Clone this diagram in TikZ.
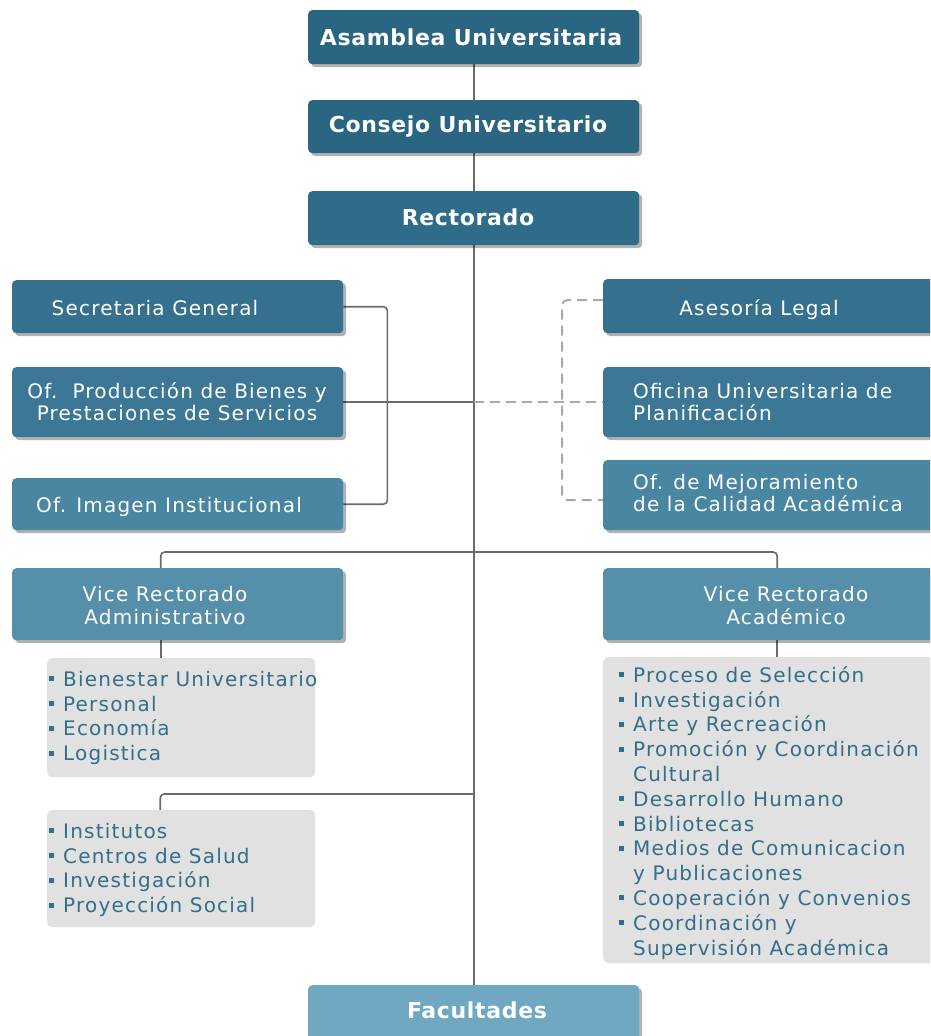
\documentclass[tikz,border=0pt]{standalone}
\usepackage{fontspec}
\setmainfont{DejaVu Sans}[LetterSpace=6]
\newfontfamily\tfont{DejaVu Sans}[LetterSpace=3]
\usetikzlibrary{shadows}
\definecolor{cA}{HTML}{2A6582}
\definecolor{cB}{HTML}{2F6C89}
\definecolor{cC}{HTML}{35718E}
\definecolor{cD}{HTML}{3C7895}
\definecolor{cE}{HTML}{4886A2}
\definecolor{cF}{HTML}{568FA9}
\definecolor{cG}{HTML}{6FA8C0}
\definecolor{lgray}{HTML}{E1E1E1}
\definecolor{ltxt}{HTML}{336E8A}
\definecolor{lnc}{HTML}{6A6A6A}
\definecolor{dshc}{HTML}{A9A9A9}
\pgfdeclarelayer{bg}
\pgfsetlayers{bg,main}
\newcommand\bul{\makebox[14pt][l]{\textcolor{ltxt}{\rule[5pt]{5pt}{5pt}}}}
\newcommand\ind{\hspace*{14pt}}
\newcommand\fst{\rule{0pt}{16pt}}
\tikzset{
  box/.style={anchor=north west, rounded corners=4pt, inner sep=0pt,
    drop shadow={shadow xshift=3pt, shadow yshift=-3pt, opacity=0.3, fill=black}},
  lbox/.style={anchor=north west, rounded corners=5pt, inner sep=0pt, fill=lgray},
  ttl/.style={anchor=base, text=white, inner sep=0pt, font=\tfont\bfseries\fontsize{22}{26}\selectfont},
  lbl/.style={text=white, inner sep=0pt, align=center, font=\fontsize{20}{22}\selectfont},
  lst/.style={anchor=north west, inner sep=0pt, align=left, text=ltxt, font=\fontsize{20}{24.8}\selectfont},
  conn/.style={draw=lnc, line width=1.6pt, rounded corners=4pt},
  dconn/.style={draw=dshc, line width=2pt, dash pattern=on 10pt off 6pt, rounded corners=5pt}
}
\begin{document}
\begin{tikzpicture}[x=1pt,y=-1pt]
\useasboundingbox (0,0) rectangle (930,1036);
\clip (0,0) rectangle (930,1036);
% boxes
\node[box, fill=cA, minimum width=331pt, minimum height=54pt] (asam) at (308,10) {};
\node[box, fill=cA, minimum width=331pt, minimum height=53pt] (cons) at (308,100) {};
\node[box, fill=cB, minimum width=331pt, minimum height=54pt] (rect) at (308,191) {};
\node[box, fill=cC, minimum width=331pt, minimum height=53pt] (sec) at (12,280) {};
\node[box, fill=cD, minimum width=331pt, minimum height=70pt] (prod) at (12,367) {};
\node[box, fill=cE, minimum width=331pt, minimum height=52pt] (imag) at (12,478) {};
\node[box, fill=cC, minimum width=360pt, minimum height=54pt] (ases) at (603,279) {};
\node[box, fill=cD, minimum width=360pt, minimum height=70pt] (ofi) at (603,367) {};
\node[box, fill=cE, minimum width=360pt, minimum height=70pt] (mej) at (603,460) {};
\node[box, fill=cF, minimum width=331pt, minimum height=72pt] (vra) at (12,568) {};
\node[box, fill=cF, minimum width=360pt, minimum height=72pt] (vrc) at (603,568) {};
\node[lbox, minimum width=268pt, minimum height=119pt] (l1) at (47,658) {};
\node[lbox, minimum width=360pt, minimum height=306pt] (l2) at (603,657) {};
\node[lbox, minimum width=268pt, minimum height=117pt] (l3) at (47,810) {};
\node[box, fill=cG, minimum width=331pt, minimum height=60pt] (fac) at (308,985) {};
% titles
\node[ttl] (asam-t) at (471,45) {Asamblea Universitaria};
\node[ttl] (cons-t) at (468,132) {Consejo Universitario};
\node[ttl] (rect-t) at (468,225) {Rectorado};
\node[ttl] (fac-t) at (477,1018) {Facultades};
% labels
\node[lbl, anchor=base] (sec-t) at (155,315) {Secretaria General};
\node[lbl] (prod-t) at (177,402) {Of.~~Producción de Bienes y\\Prestaciones de Servicios};
\node[lbl, anchor=base] (imag-t) at (169,512) {Of. Imagen Institucional};
\node[lbl, anchor=base] (ases-t) at (759,315) {Asesoría Legal};
\node[lbl, anchor=west, align=left] (ofi-t) at (633,402) {Oficina Universitaria de\\Planificación};
\node[lbl, anchor=west, align=left] (mej-t) at (633,493) {Of. de Mejoramiento\\de la Calidad Académica};
\node[lbl, font=\fontsize{20}{23}\selectfont] (vra-t) at (165,606) {Vice Rectorado\\Administrativo};
\node[lbl, font=\fontsize{20}{23}\selectfont] (vrc-t) at (786,606) {Vice Rectorado\\Académico};
% lists
\node[lst] (l1-t) at (49,670) {\fst\bul Bienestar Universitario\\\bul Personal\\\bul Economía\\\bul Logistica};
\node[lst] (l2-t) at (619,666) {\fst\bul Proceso de Selección\\\bul Investigación\\\bul Arte y Recreación\\\bul Promoción y Coordinación\\\ind Cultural\\\bul Desarrollo Humano\\\bul Bibliotecas\\\bul Medios de Comunicacion\\\ind y Publicaciones\\\bul Cooperación y Convenios\\\bul Coordinación y\\\ind Supervisión Académica};
\node[lst] (l3-t) at (49,822) {\fst\bul Institutos\\\bul Centros de Salud\\\bul Investigación\\\bul Proyección Social};
% connectors
\coordinate (hubA) at (asam.south |- 0,552);
\coordinate (hubB) at (asam.south |- 0,794);
\begin{pgfonlayer}{bg}
\draw[conn, rounded corners=0pt] (asam.south) -- (fac.north);
\draw[conn] (sec.east) -- ++(44,0) |- (imag.east);
\draw[conn, rounded corners=0pt] (prod.east) -- (asam.south |- prod.east);
\draw[dconn, rounded corners=0pt] (asam.south |- ofi.west) -- (ofi.west);
\draw[dconn] ([yshift=6pt]ases.west) -- ++(-41,0) |- ([yshift=-5pt]mej.west);
\draw[conn] ([xshift=-17pt]vra.north) |- (hubA) -| ([xshift=-6pt]vrc.north);
\draw[conn, rounded corners=0pt] ([xshift=-17pt]vra.south) -- ([xshift=-17pt]vra.south |- l1.north);
\draw[conn, rounded corners=0pt] ([xshift=-6pt]vrc.south) -- ([xshift=-6pt]vrc.south |- l2.north);
\draw[conn] (hubB) -| ([xshift=-21pt]l3.north);
\end{pgfonlayer}
\end{tikzpicture}
\end{document}
